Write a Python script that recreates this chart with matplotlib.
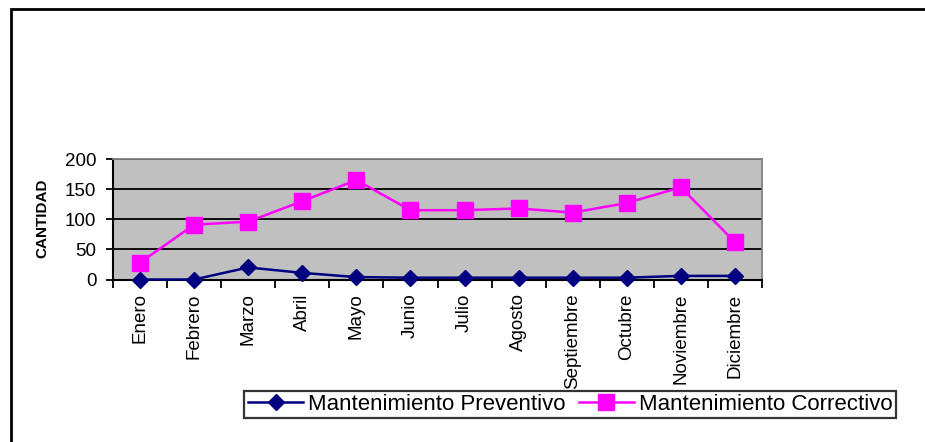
import numpy as np
import matplotlib.pyplot as plt
from matplotlib.patches import Rectangle

meses = ["Enero", "Febrero", "Marzo", "Abril", "Mayo", "Junio", "Julio",
         "Agosto", "Septiembre", "Octubre", "Noviembre", "Diciembre"]
preventivo = [0, 0, 20, 11, 4, 3, 3, 3, 3, 3, 6, 6]
correctivo = [28, 91, 96, 130, 165, 115, 115, 118, 111, 127, 153, 62]

plt.rcParams['font.family'] = ['Liberation Sans', 'DejaVu Sans']

fig = plt.figure(figsize=(9.25, 4.42), dpi=100)
ax = fig.add_axes([113/925, 1-279.5/442, (762-113)/925, (279.5-159)/442])

x = np.arange(len(meses))
ax.plot(x, preventivo, "-D", color="#000080", lw=1.8, ms=8.5,
        label="Mantenimiento Preventivo", clip_on=False, zorder=4)
ax.plot(x, correctivo, "-s", color="#FF00FF", lw=1.8, ms=11,
        label="Mantenimiento Correctivo", clip_on=False, zorder=3)

ax.set_facecolor("#C0C0C0")
ax.set_xlim(-0.5, len(meses)-0.5)
ax.set_ylim(0, 200)
ax.set_yticks([0, 50, 100, 150, 200])
ax.yaxis.grid(True, color="black", lw=1.3)
ax.set_axisbelow(True)

ax.set_xticks(x)
ax.set_xticklabels(meses, rotation=90, fontsize=13.5)
ax.set_xticks(np.arange(-0.5, len(meses)), minor=True)
ax.tick_params(axis="x", which="major", length=0, pad=10)
ax.tick_params(axis="x", which="minor", length=5.5, width=1.3, direction="out")
ax.tick_params(axis="y", length=5, width=1.3, direction="out", labelsize=13.5, pad=7)

for s in ["left", "bottom"]:
    ax.spines[s].set_color("black")
    ax.spines[s].set_linewidth(1.5)
for s in ["top", "right"]:
    ax.spines[s].set_color("#808080")
    ax.spines[s].set_linewidth(1.3)

fig.text(42/925, 1-218/442, "CANTIDAD", rotation=90, ha="center", va="center",
         fontsize=11, fontweight="bold")

leg = fig.legend(loc="center", bbox_to_anchor=(570/925, 1-404.5/442), ncol=2,
                 fontsize=16, frameon=True, fancybox=False, handlelength=2.5,
                 handletextpad=0.2, columnspacing=0.6, borderpad=0.15,
                 borderaxespad=0)
leg.get_frame().set_edgecolor("black")
leg.get_frame().set_linewidth(1.6)

# outer chart border
fig.patches.append(Rectangle((11/925, -0.1), 1.0, 1.1-9/442, transform=fig.transFigure,
                             fill=False, lw=2, edgecolor="black"))

fig.savefig("out.png", dpi=100)
